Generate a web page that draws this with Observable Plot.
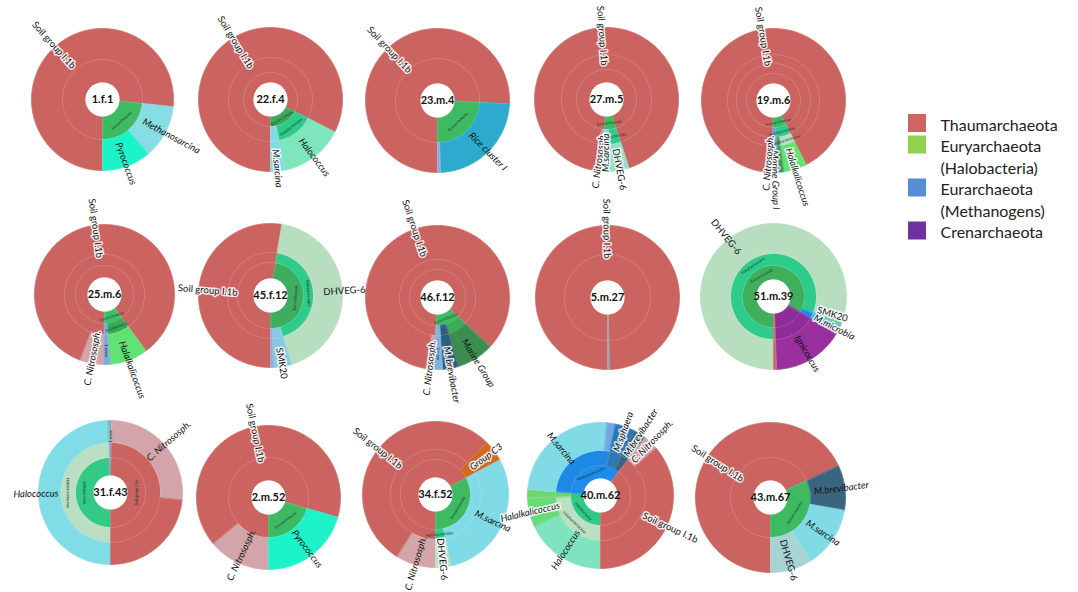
<!DOCTYPE html>
<html><head><meta charset="utf-8">
<script src="https://cdn.jsdelivr.net/npm/d3@7"></script>
<script src="https://cdn.jsdelivr.net/npm/@observablehq/plot@0.6"></script>
<style>html,body{margin:0;padding:0;background:#fff}#chart{position:absolute;left:0;top:0}</style>
</head><body><div id="chart"></div>
<script>
// ---------------- DATA ----------------
const samples = ["1.f.1","22.f.4","23.m.4","27.m.5","19.m.6","25.m.6","45.f.12","46.f.12","5.m.27","51.m.39","31.f.43","2.m.52","34.f.52","40.m.62","43.m.67"];

// each leaf: share in %, path of taxa from the inner ring to the outer ring (clockwise order)
const s_1f1 = [
  {pct:76.7, path:["Thaumarchaeota","Soil group I.1b"]},
  {pct:12.2, path:["Euryarchaeota","Methanosarcina"]},
  {pct:11.1, path:["Euryarchaeota","Pyrococcus"]}
];
const s_22f4 = [
  {pct:82.5, path:["Thaumarchaeota","Thaumarchaeota","Soil group I.1b"]},
  {pct:14.4, path:["Euryarchaeota","Halobacteriales","Halococcus"]},
  {pct:3.1,  path:["Euryarchaeota","M.sarcina","M.sarcina"]}
];
const s_23m4 = [
  {pct:75.8, path:["Thaumarchaeota","Soil group I.1b"]},
  {pct:23.6, path:["Euryarchaeota","Rice cluster I"]},
  {pct:0.6,  path:["Euryarchaeota","_lav"]}
];
const s_27m5 = [
  {pct:1.7,  path:["Thaumarchaeota","C. Nitrososph.","C. Nitrososph."]},
  {pct:92.2, path:["Thaumarchaeota","Thaumarchaeota","Soil group I.1b"]},
  {pct:4.2,  path:["Euryarchaeota","Halobacteriales","DHVEG-6"]},
  {pct:1.9,  path:["Euryarchaeota","M.sarcina","M.sarcina"]}
];
const s_19m6 = [
  {pct:1.8,  path:["Thaumarchaeota","Thaumarchaeota","C. Nitrososph.","C. Nitrososph."]},
  {pct:90.4, path:["Thaumarchaeota","Thaumarchaeota","Thaumarchaeota","Soil group I.1b"]},
  {pct:5.2,  path:["Euryarchaeota","Halobacteriales","Halobacteriaceae","Halalkalicoccus"]},
  {pct:1.1,  path:["Euryarchaeota","Halobacteriales","_dkg","_dkg"]},
  {pct:1.5,  path:["Euryarchaeota","Marine Group I","Marine Group I","Marine Group I"]}
];
const s_25m6 = [
  {pct:5.6,  path:["Thaumarchaeota","Thaumarchaeota","C. Nitrososph."]},
  {pct:84.2, path:["Thaumarchaeota","Thaumarchaeota","Soil group I.1b"]},
  {pct:8.9,  path:["Euryarchaeota","Halobacteria","Halalkalicoccus"]},
  {pct:1.3,  path:["Euryarchaeota","1 more","1 more"]}
];
const s_45f12 = [
  {pct:52.6, path:["Thaumarchaeota","Thaumarchaeota","Soil group I.1b"]},
  {pct:42.8, path:["Euryarchaeota","Halobacteriales","DHVEG-6"]},
  {pct:4.0,  path:["Euryarchaeota","SMK20","SMK20"]},
  {pct:0.6,  path:["Euryarchaeota","_lav","_lav"]}
];
const s_46f12 = [
  {pct:1.9,  path:["Thaumarchaeota","Thaumarchaeota","C. Nitrososph."]},
  {pct:84.2, path:["Thaumarchaeota","Thaumarchaeota","Soil group I.1b"]},
  {pct:8.3,  path:["Euryarchaeota","_mg","Marine Group"]},
  {pct:3.6,  path:["Euryarchaeota","M. brevibacter","M. brevibacter"]},
  {pct:1.9,  path:["Euryarchaeota","2 more","2 more"]}
];
const s_5m27 = [
  {pct:99.6, path:["Thaumarchaeota","Soil group I.1b"]},
  {pct:0.4,  path:["_grey","_grey"]}
];
const s_51m39 = [
  {pct:78.6, path:["Euryarchaeota","Halobacteriales","DHVEG-6"]},
  {pct:2.2,  path:["Euryarchaeota","Halobacteriales","SMK20"]},
  {pct:0.6,  path:["Euryarchaeota","Halobacteriales","_lg"]},
  {pct:2.2,  path:["Euryarchaeota","Methanomicrobia","M.microbia"]},
  {pct:15.8, path:["Crenarchaeota","Crenarchaeota","Ignicoccus"]},
  {pct:0.6,  path:["Thaumarchaeota","Thaumarchaeota","_red"]}
];
const s_31f43 = [
  {pct:49.4, path:["Halobacteria","Halobacteriaceae","Halococcus"]},
  {pct:0.3,  path:["Halobacteria","Halobacteriaceae","_lg"]},
  {pct:0.6,  path:["_blu","_blu","1 more"]},
  {pct:26.4, path:["Soil group I.1b","_red","C. Nitrososph."]},
  {pct:23.3, path:["Soil group I.1b","_red","_red"]}
];
const s_2m52 = [
  {pct:14.0, path:["Thaumarchaeota","C. Nitrososph."]},
  {pct:65.5, path:["Thaumarchaeota","Soil group I.1b"]},
  {pct:20.5, path:["Euryarchaeota","Pyrococcus"]}
];
const s_34f52 = [
  {pct:8.9,  path:["Thaumarchaeota","Thaumarchaeota","C. Nitrososph."]},
  {pct:53.6, path:["Thaumarchaeota","Thaumarchaeota","Soil group I.1b"]},
  {pct:4.7,  path:["Thaumarchaeota","Group C3","Group C3"]},
  {pct:29.5, path:["Euryarchaeota","M.sarcina","M.sarcina"]},
  {pct:3.3,  path:["Euryarchaeota","Halobacteriales","DHVEG-6"]}
];
const s_40m62 = [
  {pct:18.1, path:["Halobacteria","Halobacteriaceae","Halococcus"]},
  {pct:6.4,  path:["Halobacteria","Halobacteriaceae","Halalkalicoccus"]},
  {pct:1.9,  path:["Halobacteria","_lg","_lg"]},
  {pct:25.0, path:["Methanomicrobia","_mm","M.sarcina"]},
  {pct:1.9,  path:["Methanomicrobia","_mm","_blu"]},
  {pct:4.4,  path:["Methanomicrobia","M.sphaera","M.sphaera"]},
  {pct:2.8,  path:["Methanomicrobia","M.brevibacter","M.brevibacter"]},
  {pct:3.3,  path:["Thaumarchaeota","Thaumarchaeota","C. Nitrososph."]},
  {pct:36.2, path:["Thaumarchaeota","Thaumarchaeota","Soil group I.1b"]}
];
const s_43m67 = [
  {pct:68.1, path:["Thaumarchaeota","Soil group I.1b"]},
  {pct:9.7,  path:["Euryarchaeota","M.brevibacter"]},
  {pct:13.3, path:["Euryarchaeota","M.sarcina"]},
  {pct:8.9,  path:["Euryarchaeota","DHVEG-6"]}
];
const sampleLeaves = [s_1f1,s_22f4,s_23m4,s_27m5,s_19m6,s_25m6,s_45f12,s_46f12,s_5m27,s_51m39,s_31f43,s_2m52,s_34f52,s_40m62,s_43m67];

const legendLabels = ["Thaumarchaeota","Euryarchaeota\n(Halobacteria)","Eurarchaeota\n(Methanogens)","Crenarchaeota"];

// ---------------- STYLE / LAYOUT ----------------
const legendColors = ["#D06462","#92D050","#558ED5","#7030A0"];
const nodeColor = {
  "Thaumarchaeota":"#CB6361","Soil group I.1b":"#CB6361","C. Nitrososph.":"#D3A5AB","_red":"#CB6361",
  "Euryarchaeota":"#3DBA62","Halobacteria":"#2FC98A","Halobacteriales":"#2FCB8A","Halobacteriaceae":"#BBDFC3",
  "Methanomicrobia":"#1E8CEB","Crenarchaeota":"#8E2C98",
  "Methanosarcina":"#86DDE3","M.sarcina":"#80DBE6","Pyrococcus":"#1DF3C8","Halococcus":"#7EE6BC",
  "Rice cluster I":"#2EAACE","DHVEG-6":"#B8DEC0","Halalkalicoccus":"#62E272","Marine Group I":"#6B9ED4",
  "SMK20":"#84CBE2","Marine Group":"#3C8E50","M. brevibacter":"#2F5F80","M.brevibacter":"#3A6580",
  "Ignicoccus":"#9A2F9E","M.microbia":"#5AAEEF","Group C3":"#D2691E","M.sphaera":"#2A78B8",
  "1 more":"#7BA6DC","2 more":"#7DB1DF","_lav":"#98A4DA","_dkg":"#3A9B5A","_mg":"#3DAA58",
  "_grey":"#9C9CA4","_lg":"#6ED66F","_blu":"#6FA8E4","_mm":"#1E88E5"
};
const chartColor = {
  "22.f.4":{"Euryarchaeota":"#3EA95A"},
  "27.m.5":{"DHVEG-6":"#8FE0C4"},
  "25.m.6":{"Euryarchaeota":"#3EC065","Halobacteria":"#35AD57"},
  "45.f.12":{"Euryarchaeota":"#3DAD5E"},
  "51.m.39":{"Euryarchaeota":"#3FAF5C","SMK20":"#A8D8E8"},
  "31.f.43":{"Halococcus":"#80DCE6","Halobacteria":"#33CA86"},
  "40.m.62":{"Halococcus":"#7EE3BE","Halalkalicoccus":"#66DB78"},
  "43.m.67":{"DHVEG-6":"#A7D3D3"}
};
const italicNames = new Set(["Methanosarcina","Pyrococcus","Halococcus","M.sarcina","C. Nitrososph.","Rice cluster I","Halalkalicoccus","Marine Group I","Marine Group","M. brevibacter","M.brevibacter","Ignicoccus","M.microbia","M.sphaera","Group C3"]);
const innerLabelNames = new Set(["Euryarchaeota","Halobacteriales","Halobacteria","Halobacteriaceae","Methanomicrobia","Soil group I.1b"]);

// radii: ring boundaries; lab: radius where left-side / right-side leaf labels meet the pie
const layout = [
 {cx:102, cy:99,  radii:[17,40,71],        start:180,   lab:[43,46]},
 {cx:270, cy:99,  radii:[17,27,42,72],     start:180,   lab:[37,50]},
 {cx:437, cy:100, radii:[17,42,72],        start:180,   lab:[40,47]},
 {cx:606, cy:99,  radii:[17,30,45,72],     start:184,   lab:[34,50]},
 {cx:773, cy:100, radii:[17,27,37,46,72],  start:181.4, lab:[35,50]},
 {cx:104, cy:294, radii:[17,29,40,70],     start:180.6, lab:[37,50]},
 {cx:270, cy:295, radii:[17,33,43,72],     start:180,   lab:[33,53]},
 {cx:437, cy:297, radii:[17,28,38,72],     start:183,   lab:[43,50]},
 {cx:607, cy:297, radii:[17,43,72],        start:180,   lab:[39,47]},
 {cx:773, cy:296, radii:[17,31,43,73],     start:180,   lab:[55,46]},
 {cx:110, cy:492, radii:[17,35,50,72],     start:180,   lab:[52,50]},
 {cx:268, cy:497, radii:[17,40,72],        start:180,   lab:[36,42]},
 {cx:435, cy:494, radii:[17,35,45,73],     start:180,   lab:[44,44]},
 {cx:600, cy:495, radii:[17,30,45,73],     start:180,   lab:[42,47]},
 {cx:770, cy:497, radii:[17,40,75],        start:180,   lab:[33,44]}
];
const legendX = 917, legendY0 = 123, legendLine = 21.5, legendRows = [0,1,3,5];

// ---------------- GEOMETRY ----------------
const pt = (cx, cy, r, a) => { const t = a * Math.PI / 180; return [cx + r * Math.sin(t), cy - r * Math.cos(t)]; };
const sectorPts = [], centers = [], leafLabels = [], innerLabels = [];
samples.forEach((s, i) => {
  const L = layout[i], leaves = sampleLeaves[i], cols = chartColor[s] || {};
  const colorOf = n => cols[n] || nodeColor[n] || "#cccccc";
  const total = d3.sum(leaves, d => d.pct);
  let cum = 0;
  const ang = leaves.map(d => { const a0 = L.start + cum / total * 360; cum += d.pct; return [a0, L.start + cum / total * 360]; });
  const nLev = L.radii.length - 1;
  for (let k = 0; k < nLev; k++) {
    let j = 0;
    while (j < leaves.length) {
      let e = j; const name = leaves[j].path[k];
      while (e + 1 < leaves.length && leaves[e + 1].path[k] === name) e++;
      const a0 = ang[j][0], a1 = ang[e][1], r0 = L.radii[k], r1 = L.radii[k + 1];
      const id = `${s}|${k}|${j}`, col = colorOf(name);
      const n = Math.max(2, Math.ceil((a1 - a0) / 1.5));
      for (let q = 0; q <= n; q++) { const [x, y] = pt(L.cx, L.cy, r1, a0 + (a1 - a0) * q / n); sectorPts.push({id, x, y, col}); }
      for (let q = n; q >= 0; q--) { const [x, y] = pt(L.cx, L.cy, r0, a0 + (a1 - a0) * q / n); sectorPts.push({id, x, y, col}); }
      if (k < nLev - 1 && innerLabelNames.has(name) && a1 - a0 >= 10) {
        const m = ((a0 + a1) / 2) % 360; const [x, y] = pt(L.cx, L.cy, (r0 + r1) / 2, m);
        innerLabels.push({x, y, text: name, rotate: (m > 90 && m < 270) ? m - 180 : m});
      }
      j = e + 1;
    }
  }
  leaves.forEach((d, j) => {
    const name = d.path[d.path.length - 1];
    if (name.startsWith("_")) return;
    const span = ang[j][1] - ang[j][0];
    const m = ((ang[j][0] + ang[j][1]) / 2) % 360;
    const right = m < 180;
    const [x, y] = pt(L.cx, L.cy, right ? L.lab[1] : L.lab[0], m);
    const tiny = /^\d/.test(name);
    leafLabels.push({x, y, text: name, rotate: right ? m - 90 : m - 270, anchor: right ? "start" : "end",
      italic: italicNames.has(name), halo: !tiny && (name === "Soil group I.1b" || span < 25), size: tiny ? 4 : 9.5});
  });
  centers.push({x: L.cx, y: L.cy, text: s});
});
const legendData = legendLabels.map((t, i) => ({text: t, color: legendColors[i], y: legendY0 + legendRows[i] * legendLine}));

function labelMarks(rows) {
  const out = [];
  for (const anchor of ["start", "end"]) for (const italic of [false, true]) for (const halo of [false, true]) {
    const d = rows.filter(r => r.anchor === anchor && r.italic === italic && r.halo === halo);
    if (!d.length) continue;
    out.push(Plot.text(d, {x: "x", y: "y", text: "text", rotate: "rotate", fontSize: "size", textAnchor: anchor,
      fontStyle: italic ? "italic" : "normal", fill: "#111",
      ...(halo ? {stroke: "white", strokeWidth: 3, strokeOpacity: 0.85} : {})}));
  }
  return out;
}

const plot = Plot.plot({
  width: 1078, height: 592, margin: 0,
  x: {domain: [0, 1078], range: [0, 1078], axis: null},
  y: {domain: [0, 592], range: [0, 592], axis: null},
  color: {type: "identity"},
  style: {fontFamily: "Lato, 'Open Sans', sans-serif", background: "white"},
  marks: [
    Plot.line(sectorPts, {x: "x", y: "y", z: "id", fill: "col", stroke: "col", strokeWidth: 0.8, curve: "linear-closed"}),
    Plot.line(sectorPts, {x: "x", y: "y", z: "id", fill: "none", stroke: "white", strokeOpacity: 0.09, strokeWidth: 0.8, curve: "linear-closed"}),
    Plot.dot(centers, {x: "x", y: "y", r: 17, fill: "white", stroke: "none"}),
    Plot.text(innerLabels, {x: "x", y: "y", text: "text", rotate: "rotate", fontSize: 4, fill: "#1a3a22"}),
    ...labelMarks(leafLabels),
    Plot.text(centers, {x: "x", y: "y", text: "text", fontSize: 11, fontWeight: "bold", fill: "#111"}),
    Plot.rect(legendData, {x1: () => legendX - 9, x2: () => legendX + 9, y1: d => d.y - 9, y2: d => d.y + 9, fill: "color"}),
    Plot.text(legendData, {x: () => legendX + 23, y: d => d.y - 8, text: "text", textAnchor: "start", lineAnchor: "top", lineHeight: 1.34, fontSize: 16, fill: "#222"})
  ]
});
document.getElementById("chart").appendChild(plot);
</script>
</body></html>
